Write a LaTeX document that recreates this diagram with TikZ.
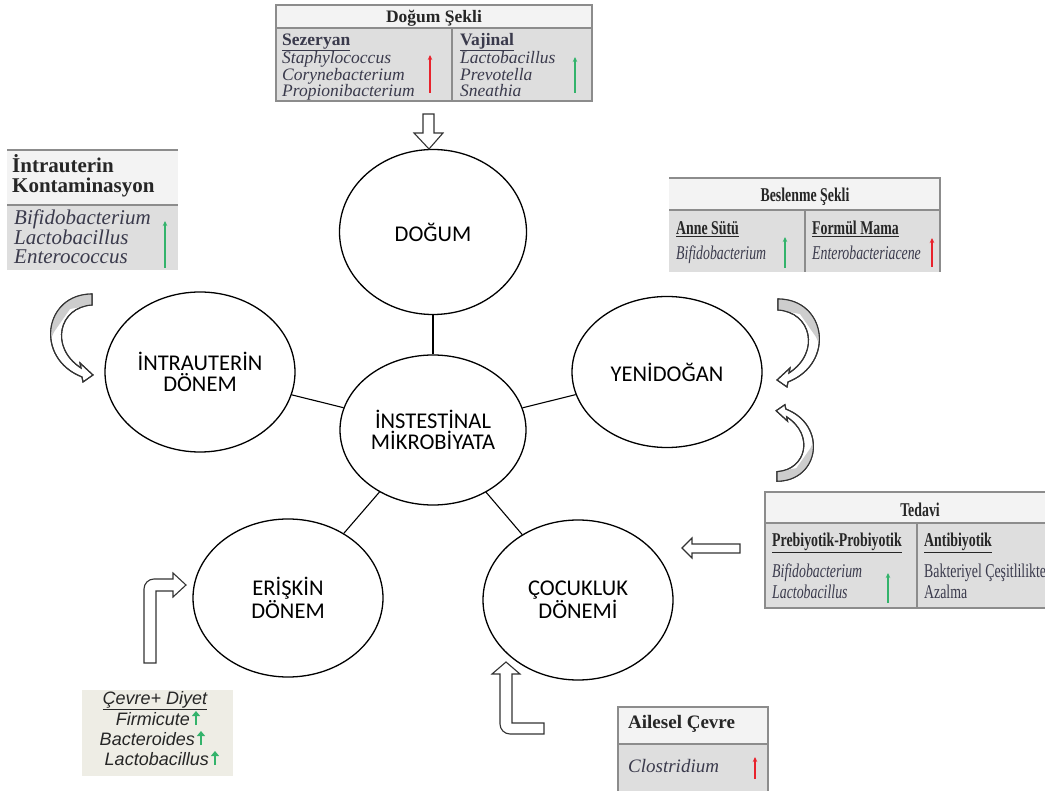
\documentclass[tikz,border=0pt]{standalone}
\usepackage{fontspec}
\setmainfont{Liberation Serif}
\newfontfamily\ovalfont{Carlito}
\newfontfamily\arialfont{Liberation Sans}
\newfontfamily\narrowfont[FakeStretch=0.71]{Liberation Serif}
\usetikzlibrary{arrows.meta,shapes.geometric,positioning}
\definecolor{headfill}{HTML}{F3F3F3}
\definecolor{bodyfill}{HTML}{DEDEDE}
\definecolor{tabline}{HTML}{8C8C8C}
\definecolor{bactext}{HTML}{3A3A4C}
\definecolor{upgreen}{HTML}{33B36B}
\definecolor{upred}{HTML}{E8222C}
\definecolor{beige}{HTML}{EEEDE5}
\definecolor{ribbon}{HTML}{CDCDCD}
\newcommand{\turnpath}{(0,-6) -- (0,5) .. controls (-33,7) and (-43,47) .. (-11,68) -- (-12,63) -- (1,75) -- (-9,82) -- (-10,77) .. controls (-58,58) and (-48,-6) .. (0,-6) -- cycle}
\tikzset{
  phase/.style={draw,ellipse,line width=1.3pt,inner sep=0pt,align=center,
    font=\ovalfont\fontsize{22.5}{21}\selectfont},
  link/.style={line width=1.1pt},
  hollow/.style={draw=black!80,fill=white,line width=1.1pt,line join=miter},
  rule/.style={draw=tabline,line width=1.5pt},
  headtext/.style={anchor=base,inner sep=0pt,text=black!85,font=\bfseries\fontsize{17.5}{17}\selectfont},
  bac/.style={anchor=base west,align=left,inner sep=0pt,text=bactext,font=\itshape\fontsize{17.5}{16.5}\selectfont},
  slim/.style={anchor=base west,inner sep=0pt,text=bactext,font=\narrowfont\itshape\fontsize{19.5}{21}\selectfont},
  slimhead/.style={anchor=base west,inner sep=0pt,text=black!85,font=\narrowfont\bfseries\fontsize{19.5}{18}\selectfont},
  diet/.style={anchor=base east,inner sep=0pt,text=black!85,font=\arialfont\itshape\fontsize{18}{18}\selectfont},
  up/.style={-{Stealth[length=5pt,width=4.5pt]},line width=1.6pt},
  fatup/.style={-{Triangle[length=5pt,width=8pt]},line width=2.8pt,upgreen},
  pics/turnarrow/.style={code={
    \path[hollow] \turnpath;
    \begin{scope}
      \clip \turnpath;
      \fill[ribbon] (5,-10) -- (5,4) -- (-22,9) -- (-38,32) -- (-46,50) -- (-60,50) -- (-60,-10) -- cycle;
    \end{scope}
    \draw[draw=black!80,line width=1.1pt,line join=miter] \turnpath;
  }}
}
\begin{document}
\begin{tikzpicture}[x=1pt,y=-1pt]
\useasboundingbox (0,0) rectangle (1045,791);
\clip (0,0) rectangle (1045,791);

\node[phase,minimum width=187pt,minimum height=165pt] (dogum) at (433,232) {DOĞUM};
\node[phase,minimum width=190pt,minimum height=160pt] (intra) at (200,372) {İNTRAUTERİN\\DÖNEM};
\node[phase,minimum width=190pt,minimum height=151pt] (yeni) at (667,372) {YENİDOĞAN};
\node[phase,minimum width=186pt,minimum height=150pt] (mikro) at (433,430) {İNSTESTİNAL\\MİKROBİYATA};
\node[phase,minimum width=190pt,minimum height=158pt] (eriskin) at (288,598) {ERİŞKİN\\DÖNEM};
\node[phase,minimum width=190pt,minimum height=160pt] (cocuk) at (578,600) {ÇOCUKLUK\\DÖNEMİ};
\foreach \p in {dogum,intra,yeni,eriskin,cocuk}
  \draw[link] (mikro) -- (\p);

% Dogum Sekli
\fill[headfill] (276,5) rectangle (592,28);
\fill[bodyfill] (276,28) rectangle (592,101);
\draw[rule] (276,5) rectangle (592,101) (276,28) -- (592,28) (452,28) -- (452,101);
\node[headtext] (dogumsekli) at (434,23) {Doğum Şekli};
\node[bac] (sezeryan) at (282,97) {\textup{\textbf{\underline{Sezeryan}}}\\Staphylococcus\\Corynebacterium\\Propionibacterium};
\node[bac] (vajinal) at (460,97) {\textup{\textbf{\underline{Vajinal}}}\\Lactobacillus\\Prevotella\\Sneathia};
\draw[up,upred] (430,93) -- (430,55);
\draw[up,upgreen] (575,93) -- (575,57);

% Intrauterin Kontaminasyon
\fill[headfill] (7,150) rectangle (178,205);
\fill[bodyfill] (7,205) rectangle (178,270);
\draw[rule] (7,150) -- (178,150) (7,205) -- (178,205);
\node[headtext,anchor=base west,align=left,font=\bfseries\fontsize{21}{20}\selectfont] (ictitle) at (12,193) {İntrauterin\\Kontaminasyon};
\node[bac,font=\itshape\fontsize{21}{19.5}\selectfont] (icbac) at (14,264) {Bifidobacterium\\Lactobacillus\\Enterococcus};
\draw[up,upgreen] (165,268) -- (165,221);

% Beslenme Sekli
\fill[headfill] (669,178) rectangle (940,210);
\fill[bodyfill] (669,210) rectangle (940,272);
\draw[rule] (669,178) -- (940,178) -- (940,272) (669,210) -- (940,210) (805,210) -- (805,272);
\node[slimhead,anchor=base] (beslenme) at (805,202) {Beslenme Şekli};
\node[slimhead] (annesutu) at (676,235) {\underline{Anne Sütü}};
\node[slim] (bfbifido) at (676,260) {Bifidobacterium};
\node[slimhead] (formul) at (812,235) {\underline{Formül Mama}};
\node[slim] (entero) at (812,260) {Enterobacteriacene};
\draw[up,upgreen] (785,268) -- (785,237);
\draw[up,upred] (932,267) -- (932,238);

% Tedavi
\fill[headfill] (765,492) rectangle (1050,523);
\fill[bodyfill] (765,523) rectangle (1050,608);
\draw[rule] (1050,492) -- (765,492) -- (765,608) -- (1050,608) (765,523) -- (1050,523) (917,523) -- (917,608);
\node[slimhead,anchor=base] (tedavi) at (920,517) {Tedavi};
\node[slimhead] (probiyo) at (772,547) {\underline{Prebiyotik-Probiyotik}};
\node[slim,align=left] (tdbac) at (772,598) {Bifidobacterium\\Lactobacillus};
\node[slimhead] (antibiyo) at (924,547) {\underline{Antibiyotik}};
\node[slim,align=left,font=\narrowfont\fontsize{19.5}{21}\selectfont] (azalma) at (924,598) {Bakteriyel Çeşitlilikte\\Azalma};
\draw[up,upgreen] (888,603) -- (888,573);

% Ailesel Cevre
\fill[headfill] (618,707) rectangle (768,744);
\fill[bodyfill] (618,744) rectangle (768,792);
\draw[rule] (618,792) -- (618,707) -- (768,707) -- (768,792) (618,744) -- (768,744);
\node[headtext,anchor=base west,font=\bfseries\fontsize{19}{19}\selectfont] (ailesel) at (628,728) {Ailesel Çevre};
\node[bac,font=\itshape\fontsize{19}{19}\selectfont] (clostri) at (628,772) {Clostridium};
\draw[up,upred] (755,779) -- (755,757);

% Cevre + Diyet
\fill[beige] (82,690) rectangle (233,776);
\node[diet,anchor=base] (cevre) at (155,704) {\underline{Çevre+ Diyet}};
\node[diet] (firmi) at (190,725) {Firmicute};
\node[diet] (bactero) at (195,745) {Bacteroides};
\node[diet] (lacto) at (209,765) {Lactobacillus};
\foreach \n in {firmi,bactero,lacto}
  \draw[fatup] ([xshift=6pt]\n.base east) -- ++(0,-14);

% block arrows
\path[hollow] (423,114) -- (434,114) -- (434,133) -- (443,133) -- (429,149) -- (414,133) -- (423,133) -- cycle;
\path[hollow] (740,544) -- (740,553) -- (692,553) -- (692,558) -- (682,548) -- (692,538) -- (692,544) -- cycle;
\path[hollow] (144,663) -- (144,589) arc[start angle=180,end angle=270,radius=10] -- (173,579) -- (173,573) -- (186,585) -- (173,597) -- (173,591) -- (156,591) -- (156,663) -- cycle;
\path[hollow] (506,662) -- (520,674) -- (512,674) -- (512,723) -- (544,723) -- (544,734) -- (510,734) arc[start angle=90,end angle=180,radius=10] -- (500,674) -- (492,674) -- cycle;
\pic at (92,300) {turnarrow};
\pic[xscale=-1] at (778,305) {turnarrow};
\pic[xscale=-0.88,yscale=-0.87] at (777,476) {turnarrow};
\end{tikzpicture}
\end{document}
